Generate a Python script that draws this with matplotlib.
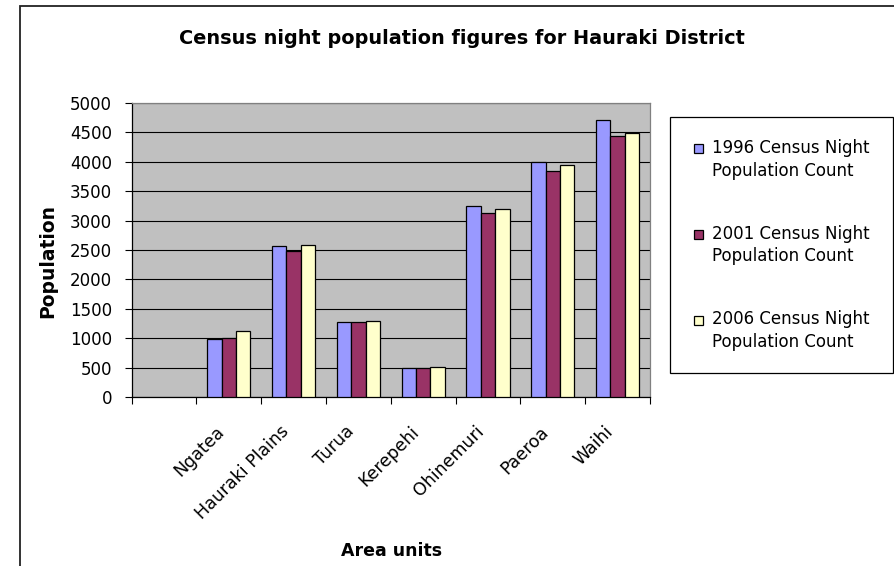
import matplotlib
matplotlib.use("Agg")
import matplotlib.pyplot as plt
import matplotlib.patches as mpatches
from matplotlib.container import BarContainer
from matplotlib.legend_handler import HandlerPatch, update_from_first_child
from matplotlib.transforms import ScaledTranslation
import numpy as np

# --- data (first slot is an empty category) ---
areas = ["", "Ngatea", "Hauraki Plains", "Turua", "Kerepehi", "Ohinemuri", "Paeroa", "Waihi"]
pop_1996 = [np.nan, 980, 2560, 1270, 485, 3250, 3995, 4705]
pop_2001 = [np.nan, 1000, 2480, 1270, 485, 3130, 3845, 4440]
pop_2006 = [np.nan, 1125, 2585, 1300, 510, 3205, 3940, 4495]
series_names = ["1996 Census Night\nPopulation Count",
                "2001 Census Night\nPopulation Count",
                "2006 Census Night\nPopulation Count"]
colors = ["#9999FF", "#993366", "#FFFFCC"]
yticks = np.arange(0, 5001, 500)

W, H = 895, 566
fig = plt.figure(figsize=(W / 100, H / 100), dpi=100)
ax = fig.add_axes([131.5 / W, 1 - 397 / H, 518.5 / W, 294 / H])
ax.set_facecolor("#C0C0C0")

# outer chart-area border (only top and left are inside the picture)
fig.patches.append(mpatches.Rectangle((20 / W, -0.1), 2, 1.1 - 6 / H, transform=fig.transFigure,
                                      fill=False, edgecolor="#222222", linewidth=1.3))

x = np.arange(len(areas))
bw = 1 / 4.5
for k, (vals, c, name) in enumerate(zip([pop_1996, pop_2001, pop_2006], colors, series_names)):
    ax.bar(x + (k - 1) * bw, vals, width=bw, color=c, edgecolor="black", linewidth=0.9,
           label=name, zorder=3)

ax.set_xlim(-0.5, len(areas) - 0.5)
ax.set_ylim(0, 5000)
ax.set_yticks(yticks)
ax.yaxis.grid(True, color="black", linewidth=0.8, zorder=1)
ax.set_axisbelow(True)

ax.set_xticks(x)
ax.set_xticklabels(areas, rotation=45, ha="right", va="center", rotation_mode="anchor")
ax.set_xticks(np.arange(-0.5, len(areas)), minor=True)
ax.tick_params(axis="x", which="major", length=0, pad=23, labelsize=12.5)
ax.tick_params(axis="x", which="minor", length=5, width=0.8, direction="out")
ax.tick_params(axis="y", length=5, width=0.8, direction="out", pad=9, labelsize=12)
shift = ScaledTranslation(-7 / 100, 0, fig.dpi_scale_trans)
for lab in ax.get_xticklabels():
    lab.set_transform(lab.get_transform() + shift)

for s in ["left", "bottom"]:
    ax.spines[s].set_color("black")
    ax.spines[s].set_linewidth(0.9)
for s in ["top", "right"]:
    ax.spines[s].set_color("#808080")
    ax.spines[s].set_linewidth(0.9)

ax.set_ylabel("Population", fontsize=13.5, fontweight="bold", va="center")
ax.yaxis.set_label_coords((48 - 131.5) / 518.5, (397 - 261) / 294)
ax.set_xlabel("Area units", fontsize=12.5, fontweight="bold", va="center")
ax.xaxis.set_label_coords((392 - 131.5) / 518.5, (397 - 551) / 294)

fig.text(461.5 / W, 1 - 38 / H, "Census night population figures for Hauraki District",
         ha="center", va="center", fontsize=13.9, fontweight="bold")


# legend swatch sits on the first line of each two-line label
def top_square(legend, orig_handle, xdescent, ydescent, width, height, fontsize):
    s = 6.5
    return mpatches.Rectangle((-xdescent + width - s, -ydescent + height / 2 - s / 2 + 8.3), s, s)


handles, labels = ax.get_legend_handles_labels()
leg = fig.legend(handles, labels, loc="upper left",
                 bbox_to_anchor=(670 / W, 1 - 117 / H, 223 / W, 0.0), mode="expand",
                 fontsize=12, frameon=True, fancybox=False, framealpha=1,
                 edgecolor="black", borderpad=1.3, labelspacing=2.7,
                 handlelength=0.7, handletextpad=0.55, borderaxespad=0,
                 handler_map={BarContainer: HandlerPatch(patch_func=top_square,
                                                         update_func=update_from_first_child)})
leg.get_frame().set_linewidth(0.9)
for t in leg.get_texts():
    t.set_linespacing(1.35)

fig.savefig("out.png", dpi=100)
